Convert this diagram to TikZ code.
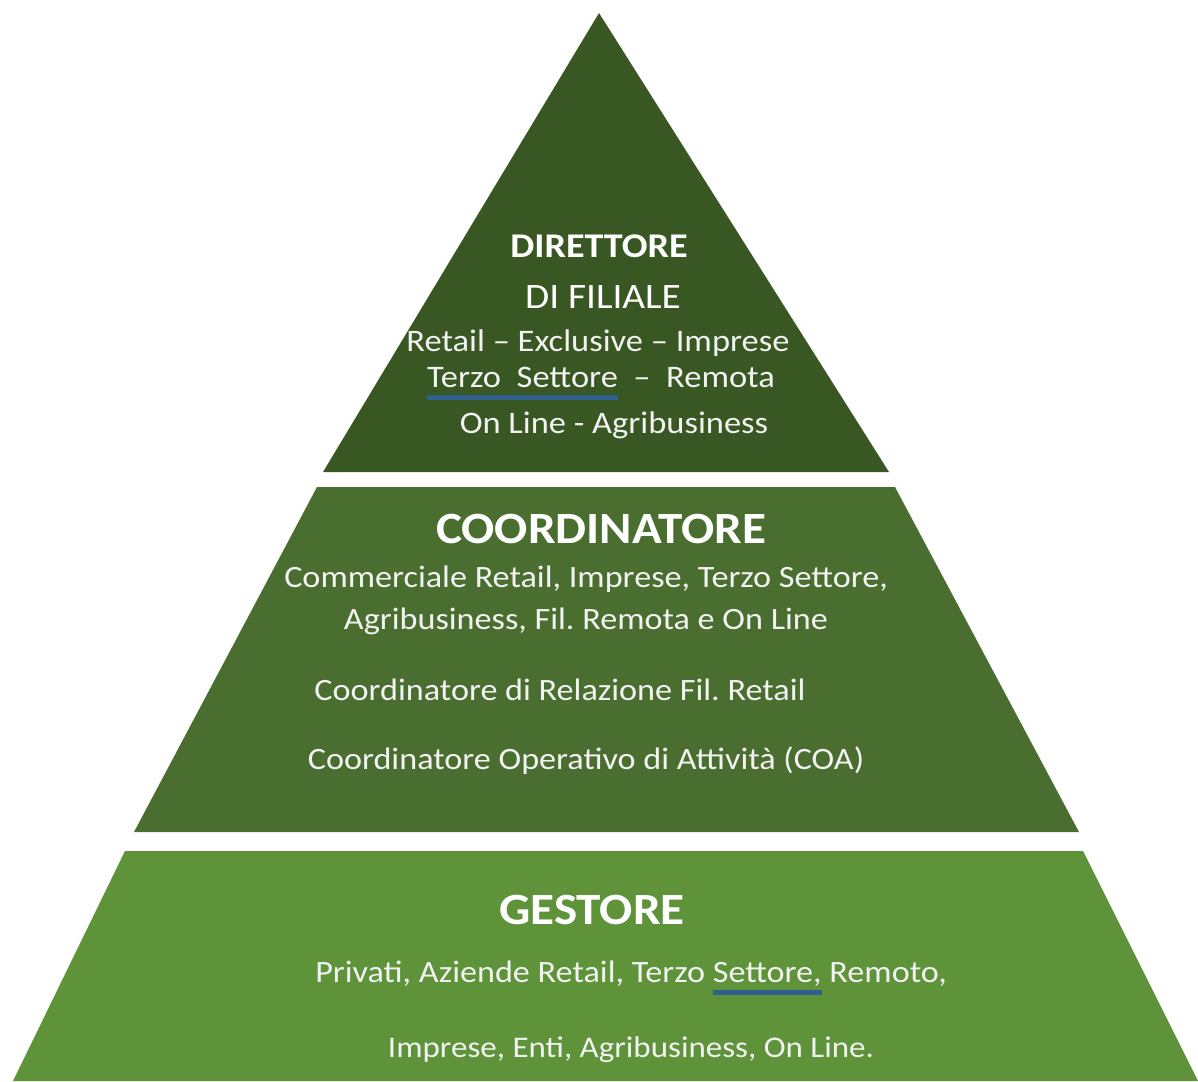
\documentclass[tikz,border=0pt]{standalone}
\usepackage{fontspec}
\setmainfont{Carlito}[FakeStretch=1.1]
\usepackage{tikz}
\usetikzlibrary{positioning}

\definecolor{leveltop}{HTML}{385723}
\definecolor{levelmid}{HTML}{4A6E2F}
\definecolor{levelbot}{HTML}{5E933A}
\definecolor{spellblue}{HTML}{2F5F8F}

% wavy spell-check mark under a word, as in the picture
\newcommand{\spellmark}[1]{\setbox0\hbox{#1}\rlap{\color{spellblue}\rule[-9.5pt]{\wd0}{3.6pt}}\box0}

\frenchspacing
\begin{document}
\begin{tikzpicture}[x=0.75pt,y=-0.75pt]

% Define block styles
\tikzset{
  title/.style={anchor=base, text=white, inner sep=0pt, font=\bfseries\fontsize{26}{30}\selectfont},
  bigtitle/.style={anchor=base, text=white, inner sep=0pt, font=\bfseries\fontsize{33.5}{38}\selectfont},
  entry/.style={anchor=base, text=white!95!black, inner sep=0pt, font=\fontsize{23.3}{28}\selectfont},
  smallentry/.style={entry, font=\fontsize{23.5}{28}\selectfont}
}

\useasboundingbox (0,0) rectangle (1198,1081);

% Levels
\coordinate (apex) at (599,13);
\coordinate (topL) at (323,472);
\coordinate (topR) at (889,472);
\fill[leveltop] (apex) -- (topR) -- (topL) -- cycle;

\coordinate (midTL) at (317,487);
\coordinate (midTR) at (895,487);
\coordinate (midBL) at (134,832);
\coordinate (midBR) at (1079,832);
\fill[levelmid] (midTL) -- (midTR) -- (midBR) -- (midBL) -- cycle;

\coordinate (botTL) at (125,851);
\coordinate (botTR) at (1083,851);
\coordinate (botBL) at (13,1081);
\coordinate (botBR) at (1198,1081);
\fill[levelbot] (botTL) -- (botTR) -- (botBR) -- (botBL) -- cycle;

% Nodes
\node[title] (direttore) at (599,257) {DIRETTORE};
\node[title, font=\fontsize{26.8}{30}\selectfont] (filiale) at (603,308) {DI FILIALE};
\node[smallentry] (dirA) at (598,351) {Retail – Exclusive – Imprese};
\node[smallentry] (dirB) at (601,387) {\spellmark{Terzo\ \ Settore}\ \ –\ \ Remota};
\node[smallentry] (dirC) at (614,433) {On Line - Agribusiness};

\node[bigtitle] (coordinatore) at (601,543) {COORDINATORE};
\node[entry] (coordA) at (586,587) {Commerciale Retail, Imprese, Terzo Settore,};
\node[entry] (coordB) at (586,629) {Agribusiness, Fil. Remota e On Line};
\node[entry] (coordC) at (560,700) {Coordinatore di Relazione Fil. Retail};
\node[entry] (coordD) at (586,769) {Coordinatore Operativo di Attività (COA)};

\node[bigtitle] (gestore) at (592,924) {GESTORE};
\node[entry] (gestA) at (631,982) {Privati, Aziende Retail, Terzo \spellmark{Settore,}\ Remoto,};
\node[entry, font=\fontsize{22.5}{27}\selectfont] (gestB) at (631,1057) {Imprese, Enti, Agribusiness, On Line.};

\end{tikzpicture}
\end{document}
